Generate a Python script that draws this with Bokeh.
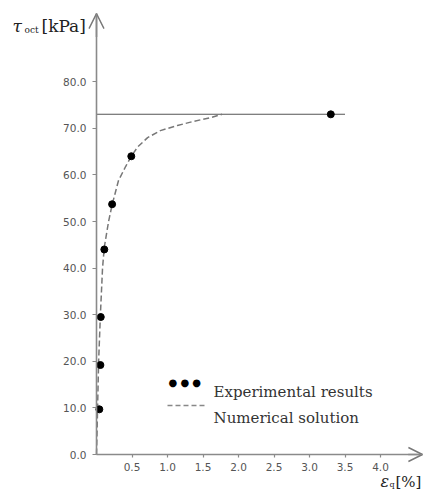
from bokeh.plotting import figure
from bokeh.models import Range1d, FixedTicker, Label, Arrow, OpenHead, CustomJSTickFormatter
from bokeh.embed import file_html
from bokeh.resources import INLINE

# ---- data ----
exp_strain = [0.04, 0.055, 0.06, 0.11, 0.22, 0.49, 3.3]
exp_tau = [9.7, 19.2, 29.5, 44.0, 53.7, 64.0, 73.0]

num_strain = [0.0, 0.01, 0.015, 0.03, 0.055, 0.085, 0.11, 0.17, 0.22, 0.31, 0.41,
              0.49, 0.58, 0.72, 0.90, 1.14, 1.37, 1.61, 1.77]
num_tau = [0.0, 6.0, 10.0, 20.0, 30.0, 40.0, 44.5, 50.0, 53.6, 58.8, 61.8,
           64.0, 66.0, 68.0, 69.5, 70.6, 71.5, 72.3, 73.0]

limit_tau = 73.0
limit_strain = [0.0, 3.5]

x_ticks = [0.5, 1.0, 1.5, 2.0, 2.5, 3.0, 3.5, 4.0]
y_ticks = [0, 10, 20, 30, 40, 50, 60, 70, 80]

# layout: pixel scale of the reference
W, H = 424, 490
X0_PX, Y0_PX = 96, 454       # page position of the origin
PX_PER_X, PX_PER_Y = 71.0, 4.66
X_END = 4.59                 # end of x axis arrow
Y_END = 94.6                 # end of y axis arrow

p = figure(width=W, height=H, output_backend="svg", toolbar_location=None,
           x_range=Range1d(-X0_PX / PX_PER_X, (W - X0_PX) / PX_PER_X),
           y_range=Range1d(-(H - Y0_PX) / PX_PER_Y, Y0_PX / PX_PER_Y),
           min_border=0)
p.grid.visible = False
p.outline_line_color = None
p.background_fill_color = "white"
p.border_fill_color = "white"

for ax in (p.xaxis[0], p.yaxis[0]):
    ax.fixed_location = 0
    ax.axis_line_color = "#8a8a8a"
    ax.axis_line_width = 1.6
    ax.major_tick_line_color = "#8a8a8a"
    ax.major_tick_line_width = 1.2
    ax.minor_tick_line_color = None
    ax.major_label_text_color = "#555555"
    ax.major_label_text_font = "DejaVu Sans"
    ax.major_label_text_font_size = "10.5px"
    ax.major_tick_in = 0

p.xaxis.bounds = (0, X_END)
p.yaxis.bounds = (0, Y_END)
p.xaxis.ticker = FixedTicker(ticks=x_ticks)
p.yaxis.ticker = FixedTicker(ticks=y_ticks)
p.xaxis.major_tick_out = 3
p.yaxis.major_tick_out = 4
p.xaxis.major_label_standoff = 5
p.yaxis.major_label_standoff = 6
p.xaxis.formatter = CustomJSTickFormatter(code="return tick.toFixed(1);")
p.yaxis.formatter = CustomJSTickFormatter(code="return tick.toFixed(1);")

# axis arrow heads
p.add_layout(Arrow(end=OpenHead(size=14, line_color="#777777", line_width=1.4),
                   x_start=X_END - 0.2, y_start=0, x_end=X_END, y_end=0,
                   line_color="#8a8a8a", line_width=1.6))
p.add_layout(Arrow(end=OpenHead(size=15, line_color="#777777", line_width=1.4),
                   x_start=0, y_start=Y_END - 5, x_end=0, y_end=Y_END,
                   line_color="#8a8a8a", line_width=1.6))

# limit line
p.line(limit_strain, [limit_tau, limit_tau], line_color="#555555", line_width=1.1)
# numerical solution
p.line(num_strain, num_tau, line_color="#777777", line_width=1.5, line_dash="6 3")
# experimental
p.scatter(exp_strain, exp_tau, size=7, fill_color="black", line_color="black")

# helpers to convert page pixels -> data coordinates (layout only)
def dx(px):
    return (px - X0_PX) / PX_PER_X

def dy(py):
    return (Y0_PX - py) / PX_PER_Y

serif = "DejaVu Serif"

# y-axis label: tau_oct [kPa]
p.add_layout(Label(x=dx(12), y=dy(25), text="τ", text_font=serif, text_font_style="italic",
                   text_font_size="17px", text_color="#222222", text_baseline="middle"))
p.add_layout(Label(x=dx(24), y=dy(29), text="oct", text_font=serif,
                   text_font_size="9px", text_color="#222222", text_baseline="middle"))
p.add_layout(Label(x=dx(41), y=dy(25), text="[kPa]", text_font=serif,
                   text_font_size="17px", text_color="#222222", text_baseline="middle"))

# x-axis label: eps_q [%]
p.add_layout(Label(x=dx(380), y=dy(481), text="ε", text_font=serif, text_font_style="italic",
                   text_font_size="16px", text_color="#222222", text_baseline="middle"))
p.add_layout(Label(x=dx(389), y=dy(484), text="q", text_font=serif,
                   text_font_size="8px", text_color="#222222", text_baseline="middle"))
p.add_layout(Label(x=dx(395), y=dy(481), text="[%]", text_font=serif,
                   text_font_size="15px", text_color="#222222", text_baseline="middle"))

# legend
p.add_layout(Label(x=dx(168), y=dy(382), text="● ● ●", text_font="DejaVu Sans",
                   text_font_size="10px", text_color="black", text_baseline="middle"))
p.add_layout(Label(x=dx(213), y=dy(391), text="Experimental  results", text_font=serif,
                   text_font_size="15px", text_color="#333333", text_baseline="middle"))
p.add_layout(Arrow(end=None, x_start=dx(167), y_start=dy(405), x_end=dx(205), y_end=dy(405),
                   line_color="#888888", line_width=1.3, line_dash="5 3"))
p.add_layout(Label(x=dx(213), y=dy(417), text="Numerical  solution", text_font=serif,
                   text_font_size="15px", text_color="#333333", text_baseline="middle"))

open("out.html", "w").write(file_html(p, INLINE))
